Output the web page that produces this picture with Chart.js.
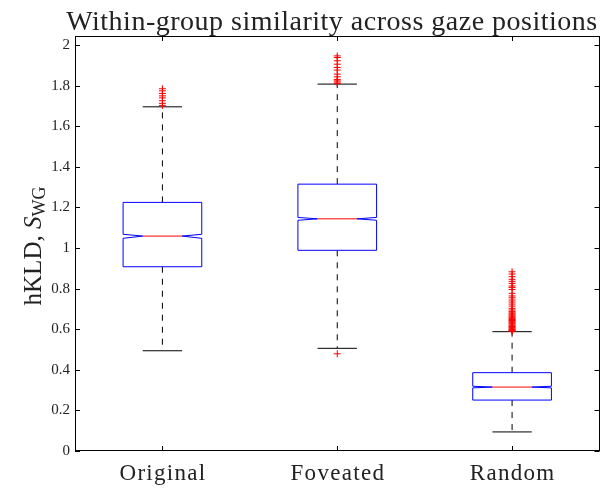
<!DOCTYPE html>
<html>
<head>
<meta charset="utf-8">
<script src="https://cdn.jsdelivr.net/npm/chart.js@4.4.1/dist/chart.umd.min.js"></script>
<style>
  html, body { margin: 0; padding: 0; background: #fff; }
  #wrap { width: 604px; height: 488px; position: relative; }
</style>
</head>
<body>
<div id="wrap"><canvas id="c" width="604" height="488"></canvas></div>
<script>
// ---- data ----
const categories = ["Original", "Foveated", "Random"];
const q1 = [0.908, 0.989, 0.251];
const median = [1.059, 1.144, 0.315];
const q3 = [1.225, 1.315, 0.386];
const notchLow = [1.048, 1.137, 0.311];
const notchHigh = [1.068, 1.151, 0.319];
const whiskerLow = [0.494, 0.506, 0.094];
const whiskerHigh = [1.696, 1.808, 0.588];
const outliersOriginal = [1.785, 1.775, 1.762, 1.750, 1.740, 1.726, 1.713, 1.703];
const outliersFoveated = [1.947, 1.939, 1.923, 1.906, 1.890, 1.877, 1.857, 1.844, 1.831, 1.824, 1.818, 1.811, 0.479];
const outliersRandom = [0.883, 0.872, 0.859, 0.846, 0.836, 0.826, 0.813, 0.806, 0.796, 0.777, 0.764, 0.755,
  0.744, 0.734, 0.724, 0.714, 0.703, 0.695, 0.688, 0.681, 0.676, 0.671, 0.666, 0.661, 0.657, 0.652,
  0.648, 0.643, 0.639, 0.634, 0.630, 0.626, 0.621, 0.617, 0.613, 0.609, 0.605, 0.601, 0.598, 0.595, 0.592, 0.590];
const yTicks = [0, 0.2, 0.4, 0.6, 0.8, 1, 1.2, 1.4, 1.6, 1.8, 2];

const boxHalf = 0.225;   // in category units
const notchInset = 0.1125;
const capHalf = 0.1125;

const outlierPoints = [];
[outliersOriginal, outliersFoveated, outliersRandom].forEach((arr, i) => {
  arr.forEach(v => outlierPoints.push({ x: i + 1, y: v }));
});

const SERIF = "'Liberation Serif', 'DejaVu Serif', serif";
const TEXT = '#222';

const boxPlugin = {
  id: 'boxes',
  beforeDatasetsDraw(chart) {
    const ctx = chart.ctx;
    const xs = chart.scales.x, ys = chart.scales.y;
    ctx.save();
    for (let i = 0; i < categories.length; i++) {
      const c = i + 1;
      const xl = xs.getPixelForValue(c - boxHalf);
      const xr = xs.getPixelForValue(c + boxHalf);
      const xc = xs.getPixelForValue(c);
      const xnl = xs.getPixelForValue(c - boxHalf + notchInset);
      const xnr = xs.getPixelForValue(c + boxHalf - notchInset);
      const yq1 = ys.getPixelForValue(q1[i]);
      const yq3 = ys.getPixelForValue(q3[i]);
      const ym = ys.getPixelForValue(median[i]);
      const ynl = ys.getPixelForValue(notchLow[i]);
      const ynh = ys.getPixelForValue(notchHigh[i]);
      const ywl = ys.getPixelForValue(whiskerLow[i]);
      const ywh = ys.getPixelForValue(whiskerHigh[i]);
      const cxl = xs.getPixelForValue(c - capHalf);
      const cxr = xs.getPixelForValue(c + capHalf);

      ctx.strokeStyle = '#000';
      ctx.lineWidth = 1;
      ctx.setLineDash([6, 6]);
      ctx.beginPath();
      ctx.moveTo(xc, yq3); ctx.lineTo(xc, ywh);
      ctx.moveTo(xc, yq1); ctx.lineTo(xc, ywl);
      ctx.stroke();
      ctx.setLineDash([]);
      ctx.beginPath();
      ctx.moveTo(cxl, ywh); ctx.lineTo(cxr, ywh);
      ctx.moveTo(cxl, ywl); ctx.lineTo(cxr, ywl);
      ctx.stroke();

      ctx.fillStyle = '#fff';
      ctx.strokeStyle = '#0000ff';
      ctx.beginPath();
      ctx.moveTo(xl, yq3);
      ctx.lineTo(xr, yq3);
      ctx.lineTo(xr, ynh);
      ctx.lineTo(xnr, ym);
      ctx.lineTo(xr, ynl);
      ctx.lineTo(xr, yq1);
      ctx.lineTo(xl, yq1);
      ctx.lineTo(xl, ynl);
      ctx.lineTo(xnl, ym);
      ctx.lineTo(xl, ynh);
      ctx.closePath();
      ctx.fill();
      ctx.stroke();
      ctx.strokeStyle = '#ff0000';
      ctx.beginPath();
      ctx.moveTo(xnl, ym); ctx.lineTo(xnr, ym);
      ctx.stroke();
    }
    ctx.restore();
  },
  afterDraw(chart) {
    const ctx = chart.ctx;
    const a = chart.chartArea;
    const xs = chart.scales.x, ys = chart.scales.y;
    ctx.save();
    ctx.strokeStyle = '#000';
    ctx.lineWidth = 1;
    ctx.strokeRect(Math.round(a.left) + 0.5, Math.round(a.top) + 0.5,
      Math.round(a.right - a.left) - 1, Math.round(a.bottom - a.top) - 1);
    ctx.beginPath();
    yTicks.forEach(v => {
      const y = Math.round(ys.getPixelForValue(v)) + 0.5;
      ctx.moveTo(a.left, y); ctx.lineTo(a.left + 5, y);
      ctx.moveTo(a.right, y); ctx.lineTo(a.right - 5, y);
    });
    categories.forEach((c, i) => {
      const x = Math.round(xs.getPixelForValue(i + 1)) + 0.5;
      ctx.moveTo(x, a.bottom); ctx.lineTo(x, a.bottom - 5);
      ctx.moveTo(x, a.top); ctx.lineTo(x, a.top + 5);
    });
    ctx.stroke();

    ctx.fillStyle = TEXT;
    // x category labels
    ctx.font = "23px " + SERIF;
    ctx.letterSpacing = '1.3px';
    ctx.textAlign = 'center';
    ctx.textBaseline = 'alphabetic';
    categories.forEach((c, i) => {
      ctx.fillText(c, xs.getPixelForValue(i + 1) + 0.6, 480);
    });

    // title
    ctx.font = "28px " + SERIF;
    ctx.letterSpacing = '0.5px';
    ctx.fillText('Within-group similarity across gaze positions', 332, 30);
    ctx.letterSpacing = '0px';

    // y label with subscript
    ctx.translate(41, 246);
    ctx.rotate(-Math.PI / 2);
    const p1 = 'hKLD, ', p2 = 'S', p3 = 'WG';
    ctx.font = "25px " + SERIF;
    const w1 = ctx.measureText(p1).width;
    ctx.font = "italic 25px " + SERIF;
    const w2 = ctx.measureText(p2).width;
    ctx.font = "18px " + SERIF;
    const w3 = ctx.measureText(p3).width;
    const x0 = -(w1 + w2 + w3) / 2;
    ctx.textAlign = 'left';
    ctx.font = "25px " + SERIF;
    ctx.fillText(p1, x0, 0);
    ctx.font = "italic 25px " + SERIF;
    ctx.fillText(p2, x0 + w1, 0);
    ctx.font = "18px " + SERIF;
    ctx.fillText(p3, x0 + w1 + w2, 4);
    ctx.restore();
  }
};

new Chart(document.getElementById('c'), {
  type: 'scatter',
  data: {
    datasets: [{
      label: 'outliers',
      data: outlierPoints,
      pointStyle: 'cross',
      pointRadius: 3.5,
      pointBorderColor: '#ff0000',
      pointBackgroundColor: '#ff0000',
      pointBorderWidth: 1,
      pointHoverRadius: 3.5
    }]
  },
  options: {
    responsive: false,
    animation: false,
    events: [],
    layout: { padding: { top: 36, right: 4, left: 0, bottom: 0 } },
    plugins: { legend: { display: false }, tooltip: { enabled: false }, title: { display: false } },
    scales: {
      x: {
        type: 'linear',
        min: 0.5, max: 3.5,
        afterBuildTicks(s) { s.ticks = categories.map((c, i) => ({ value: i + 1 })); },
        afterFit(s) { s.height = 37; },
        grid: { display: false, drawTicks: false },
        border: { display: false },
        ticks: { display: false }
      },
      y: {
        min: 0, max: 2.045,
        afterBuildTicks(s) { s.ticks = yTicks.map(v => ({ value: v })); },
        afterFit(s) { s.width = 75; },
        grid: { display: false, drawTicks: false },
        border: { display: false },
        ticks: {
          color: TEXT,
          font: { family: SERIF, size: 15 },
          padding: 5,
          callback: (v) => String(Math.round(v * 10) / 10)
        }
      }
    }
  },
  plugins: [boxPlugin]
});
</script>
</body>
</html>
